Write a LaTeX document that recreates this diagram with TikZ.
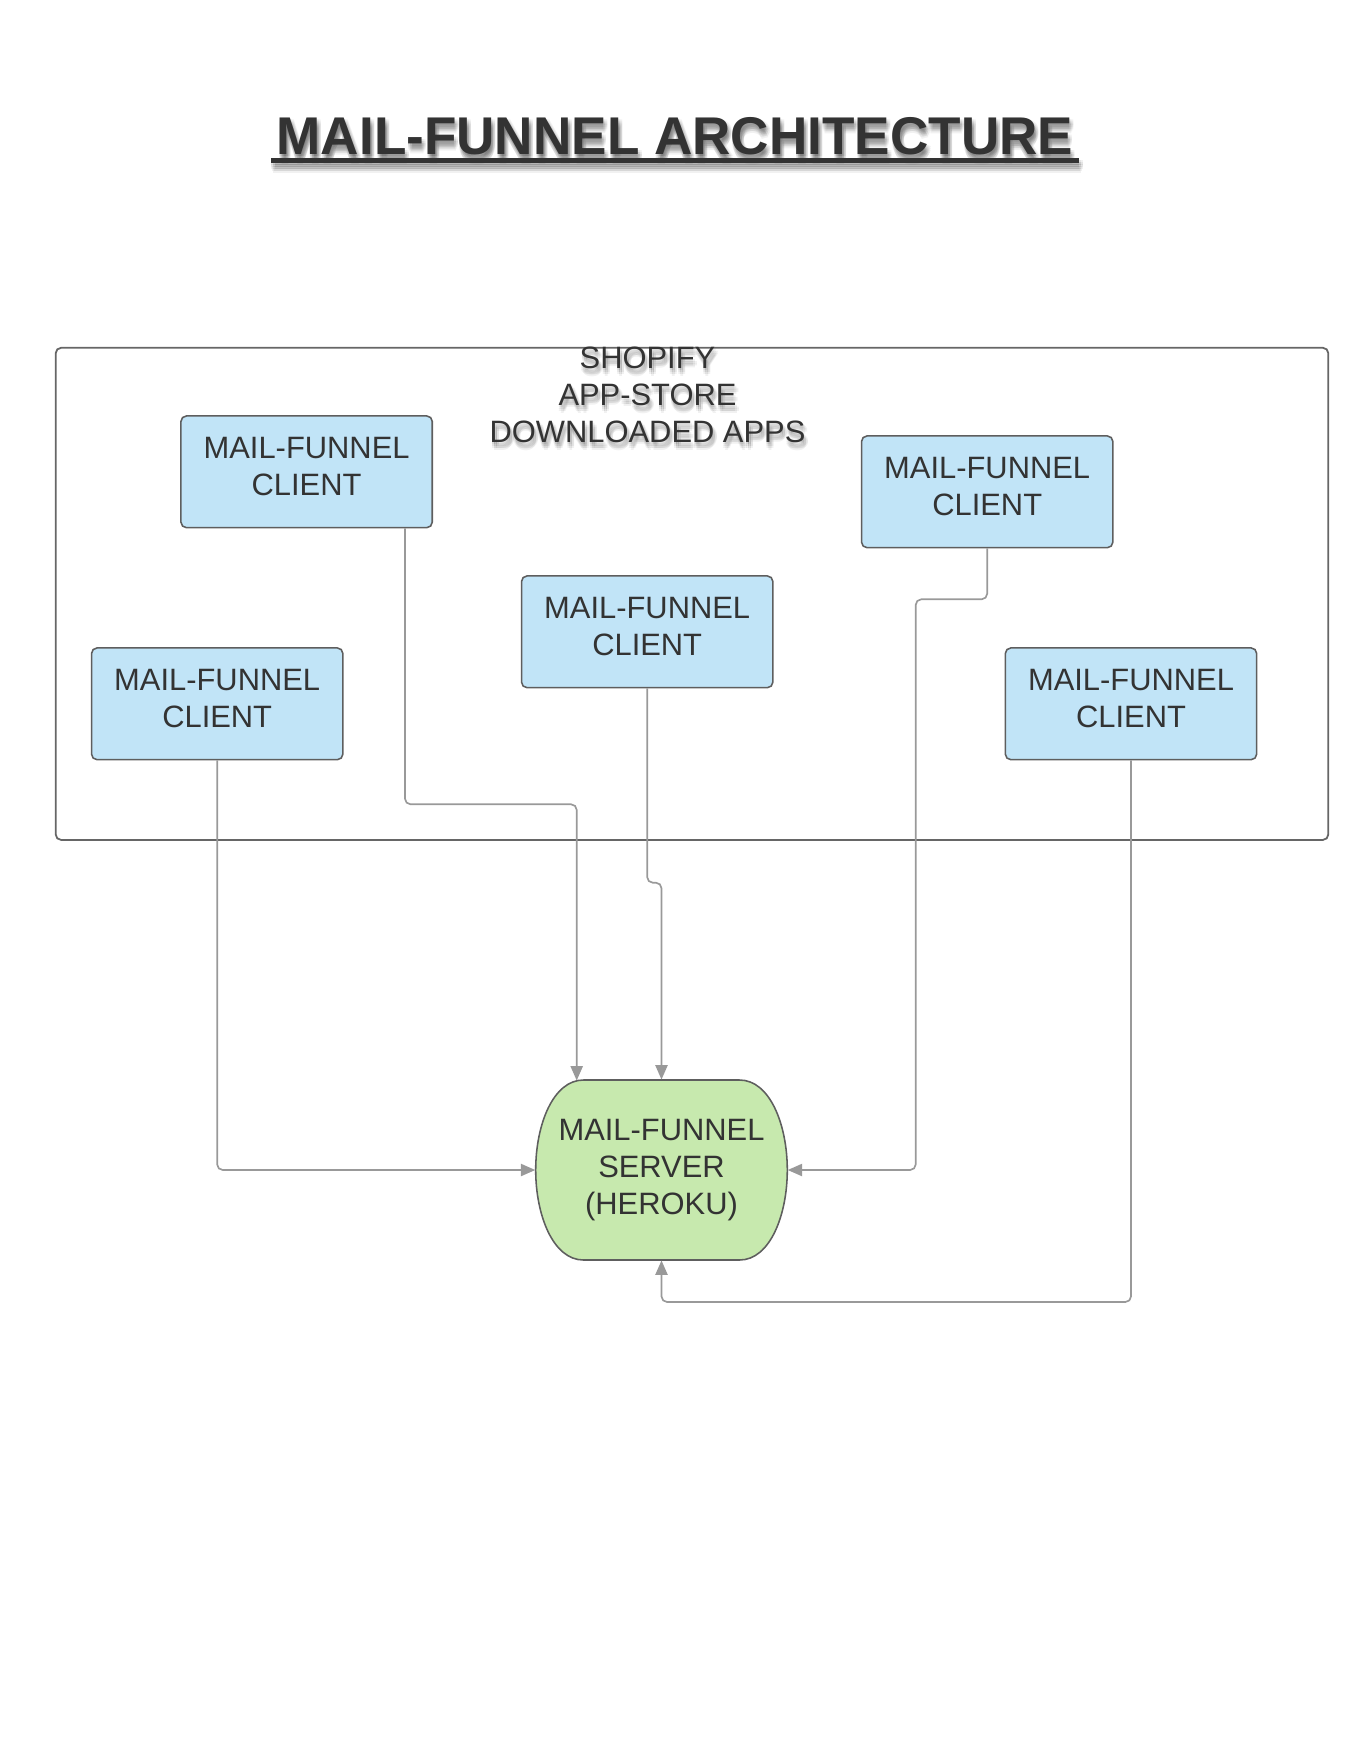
\documentclass[tikz,border=0pt]{standalone}
\usepackage{fontspec}
\setmainfont{Liberation Sans}
\usetikzlibrary{arrows.meta,calc}
\definecolor{txt}{HTML}{333333}
\definecolor{boxfill}{HTML}{C1E4F7}
\definecolor{boxdraw}{HTML}{5E5E5E}
\definecolor{srvfill}{HTML}{C7E9AE}
\definecolor{frame}{HTML}{666666}
\definecolor{conn}{HTML}{999999}
\begin{document}
\begin{tikzpicture}[x=0.45pt,y=-0.45pt,
  lbl/.style={font=\fontsize{13.9}{16.6}\selectfont, text=txt, align=center, inner sep=0pt},
  client/.style={lbl, draw=boxdraw, fill=boxfill, line width=0.7pt, rounded corners=2.5pt,
     minimum width=113.1pt, minimum height=50.3pt,
     execute at end node={\rule[-5pt]{0pt}{5pt}}},
  titlefont/.style={font=\fontsize{23.9}{28}\selectfont\bfseries, inner sep=0pt, anchor=base},
  connector/.style={draw=conn, line width=0.75pt, rounded corners=2.5pt,
     -{Triangle[length=6.5pt,width=5.5pt]}, fill=none},
  shadowcopy/.style={opacity=0.055, text=black}
]
\useasboundingbox (0,0) rectangle (1360,1760);

% ---------- title with soft shadow ----------
\foreach \dx/\dy [count=\i] in {0/2,2/2,4/2,0/4,2/4,4/4,0/6,2/6,4/6,1/8,3/8,2/10} {
  \node[titlefont, shadowcopy] (tsh\i) at ($(675,154)+(\dx,\dy)$) {MAIL-FUNNEL ARCHITECTURE};
  \fill[black, opacity=0.055] ($(tsh\i.base west)+(-5,4)$) rectangle ($(tsh\i.base east)+(5,9)$);
}
\node[titlefont, text=txt] (title) at (675,154) {MAIL-FUNNEL ARCHITECTURE};
\fill[txt] ($(title.base west)+(-5,4)$) rectangle ($(title.base east)+(5,8.7)$);

% ---------- container ----------
\node[draw=frame, line width=0.8pt, rounded corners=2.5pt, minimum width=572.7pt,
      minimum height=221.5pt, inner sep=0pt] (store) at (692,593.85) {};

\foreach \dx/\dy [count=\i] in {0/2,2/2,0/4,2/4,4/4,0/6,2/6,4/6,2/8} {
  \node[lbl, shadowcopy] (lsh\i) at ($(647.5,394.5)+(\dx,\dy)$) {SHOPIFY\\APP-STORE\\DOWNLOADED APPS};
}
\node[lbl] (storelabel) at (647.5,394.5) {SHOPIFY\\APP-STORE\\DOWNLOADED APPS};

% ---------- server shape ----------
\path[fill=srvfill, draw=boxdraw, line width=0.7pt]
  (583.5,1080) -- (739.5,1080)
  .. controls (770,1080) and (787.3,1125) .. (787.3,1170)
  .. controls (787.3,1215) and (770,1260) .. (739.5,1260)
  -- (583.5,1260)
  .. controls (553,1260) and (535.7,1215) .. (535.7,1170)
  .. controls (535.7,1125) and (553,1080) .. (583.5,1080) -- cycle;
\node[lbl, minimum width=113.2pt, minimum height=81pt] (server) at (661.5,1170)
  {MAIL-FUNNEL\\SERVER\\(HEROKU)\rule[-2pt]{0pt}{2pt}};

% ---------- clients ----------
\node[client] (c1) at (306.6,471.8) {MAIL-FUNNEL\\CLIENT};
\node[client] (c2) at (987.2,491.8) {MAIL-FUNNEL\\CLIENT};
\node[client] (c3) at (647.2,631.8) {MAIL-FUNNEL\\CLIENT};
\node[client] (c4) at (217.2,703.8) {MAIL-FUNNEL\\CLIENT};
\node[client] (c5) at (1131,703.8) {MAIL-FUNNEL\\CLIENT};

% ---------- bend points ----------
\coordinate (k1) at (405,804.3);
\coordinate (s1) at (576.7,1080.5);
\coordinate (k3) at (647.2,882.7);
\coordinate (k2) at (915.7,599.3);
\coordinate (k5) at (661.5,1302);

% ---------- connectors ----------
\draw[connector] (c4.south) |- (server.west);
\draw[connector] (c1.south -| k1) -- (k1) -| (s1);
\draw[connector] (c3.south) -- (k3) -| (server.north);
\draw[connector] (c2.south) |- (k2) |- (server.east);
\draw[connector] (c5.south) |- (k5) -- (server.south);
\end{tikzpicture}
\end{document}
